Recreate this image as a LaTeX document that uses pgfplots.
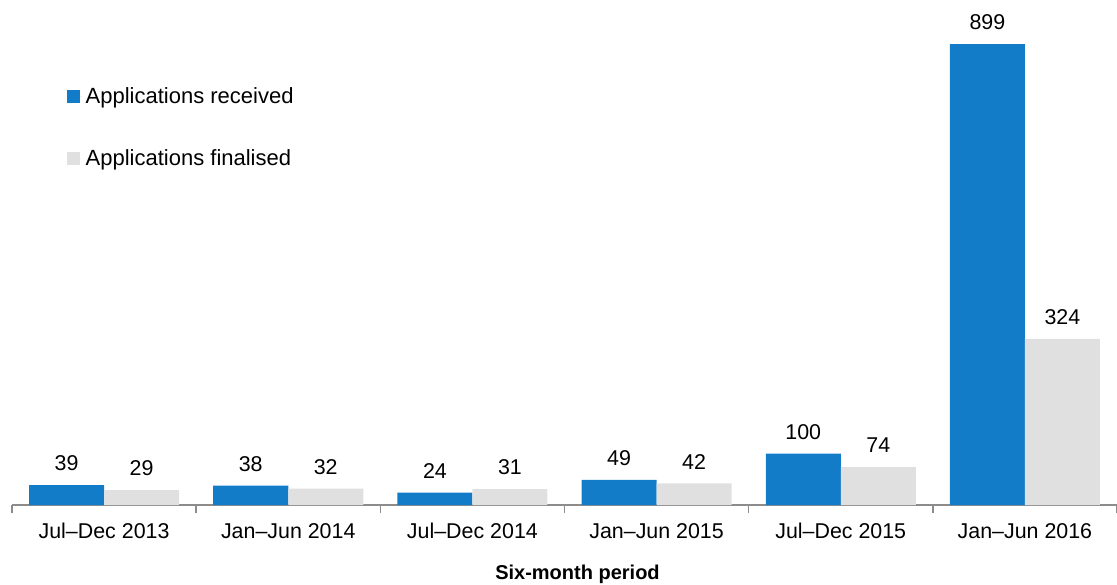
\documentclass[border=0pt]{standalone}
\usepackage{pgfplots}
\pgfplotsset{compat=1.18}
\usepackage{fontspec}
\setmainfont{Liberation Sans}
\definecolor{recv}{HTML}{137CC8}
\definecolor{fin}{HTML}{E0E0E0}
\definecolor{axgrey}{HTML}{8C8C8C}
\begin{document}
\begin{tikzpicture}
\begin{axis}[
  scale only axis,
  width=552.5pt, height=230.5pt,
  ybar=0pt, bar width=37.5pt,
  ymin=0, ymax=899,
  xmin=-0.5, xmax=5.5,
  /pgf/number format/assume math mode=true,
  axis x line*=bottom, axis y line=none,
  x axis line style={axgrey, line width=0.8pt, -},
  xtick={0,1,2,3,4,5},
  xticklabels={Jul--Dec 2013, Jan--Jun 2014, Jul--Dec 2014, Jan--Jun 2015, Jul--Dec 2015, Jan--Jun 2016},
  major tick length=0pt,
  x tick label style={font=\fontsize{10.7}{12}\selectfont, yshift=-5.5pt},
  extra x ticks={-0.5,0.5,1.5,2.5,3.5,4.5,5.5},
  extra x tick labels={},
  extra x tick style={tick align=outside, major tick length=4pt, tick style={axgrey, line width=0.8pt}},
  xlabel={\textbf{Six-month period}},
  xlabel style={font=\fontsize{10}{12}\selectfont, yshift=-2pt, xshift=6.5pt},
  nodes near coords,
  every node near coord/.append style={font=\fontsize{10.7}{12}\selectfont, black, yshift=3.5pt},
  legend style={at={(0.0437,0.818)}, anchor=west, draw=none, fill=none,
    font=\fontsize{11}{12}\selectfont, row sep=17.5pt,
    nodes={inner sep=2pt}},
  legend cell align=left,
  legend image code/.code={\fill[#1, draw=none] (0pt,-3.25pt) rectangle (6.5pt,3.25pt);\path (0pt,0pt) -- (7.5pt,0pt);},
]
\addplot[fill=recv, draw=none] coordinates {(0,39) (1,38) (2,24) (3,49) (4,100) (5,899)};
\addplot[fill=fin, draw=none] coordinates {(0,29) (1,32) (2,31) (3,42) (4,74) (5,324)};
\legend{Applications received, Applications finalised}
\end{axis}
\pgfresetboundingbox
\path[use as bounding box] (-6pt,-39.5pt) rectangle (552.5pt,252.5pt);
\end{tikzpicture}
\end{document}
